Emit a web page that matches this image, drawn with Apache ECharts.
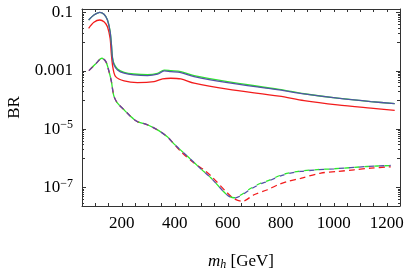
<!DOCTYPE html>
<html><head><meta charset="utf-8">
<script src="https://cdn.jsdelivr.net/npm/echarts@6/dist/echarts.min.js"></script>
<style>html,body{margin:0;padding:0;background:#fff}#c{width:407px;height:270px}</style>
</head><body><div id="c"></div>
<script>
// Solid curves (upper)
var mBlueSolid = [75, 95, 117, 133, 146, 156, 161, 165, 171, 184, 209, 246, 297, 335, 360, 385, 423, 473, 599, 794, 888, 1014, 1140, 1230];
var brBlueSolid = [0.0562, 0.0834, 0.1033, 0.0881, 0.0562, 0.02234, 0.00783, 0.00274, 0.00162, 0.00109, 0.000841, 0.000735, 0.000695, 0.000776, 0.001007, 0.000955, 0.000881, 0.000643, 0.000401, 0.000225, 0.000164, 0.000117, 8.95e-5, 7.59e-5];
var brGreenSolid = [0.0562, 0.0834, 0.1033, 0.0881, 0.0575, 0.0235, 0.0085, 0.0030, 0.00176, 0.00118, 0.000905, 0.00079, 0.000745, 0.000835, 0.00108, 0.00103, 0.00095, 0.00069, 0.00043, 0.000235, 0.000166, 0.000117, 8.95e-5, 7.59e-5];
var mRedSolid = [75, 95, 117, 133, 146, 156, 161, 167, 177, 209, 259, 322, 354, 385, 423, 473, 599, 794, 888, 1014, 1140, 1230];
var brRedSolid = [0.02924, 0.0469, 0.0562, 0.0492, 0.0332, 0.01327, 0.003556, 0.001247, 0.000643, 0.000458, 0.000401, 0.000434, 0.000536, 0.000566, 0.000536, 0.000382, 0.000238, 0.000138, 9.68e-5, 6.90e-5, 5.32e-5, 4.47e-5];
// Dashed curves (lower)
var mBlueDashed = [76, 102, 125, 140, 152, 161, 165, 171, 184, 209, 234, 259, 297, 335, 372, 397, 448, 498, 536, 586, 605, 623, 649, 687, 724, 750, 812, 875, 938, 1001, 1127, 1215];
var brBlueDashed = [1.03e-3, 1.77e-3, 2.74e-3, 2.10e-3, 9.53e-4, 4.34e-4, 2.5e-4, 1.33e-4, 7.89e-5, 4.66e-5, 2.74e-5, 1.85e-5, 1.43e-5, 9.6e-6, 5.53e-6, 3.18e-6, 1.19e-6, 4.44e-7, 2.18e-7, 7.08e-8, 5.01e-8, 4.37e-8, 5.25e-8, 8.91e-8, 1.35e-7, 1.63e-7, 2.77e-7, 3.59e-7, 4.10e-7, 4.44e-7, 5.32e-7, 5.75e-7];
var brGreenDashed = [1.03e-3, 1.77e-3, 2.74e-3, 2.10e-3, 9.53e-4, 4.34e-4, 2.5e-4, 1.33e-4, 7.89e-5, 4.66e-5, 2.74e-5, 1.85e-5, 1.43e-5, 9.6e-6, 5.53e-6, 3.18e-6, 1.19e-6, 4.44e-7, 2.18e-7, 7.08e-8, 5.01e-8, 4.5e-8, 5.6e-8, 9.5e-8, 1.42e-7, 1.72e-7, 2.9e-7, 3.7e-7, 4.15e-7, 4.44e-7, 5.32e-7, 5.75e-7];
var mRedDashed = [76, 102, 125, 140, 152, 161, 165, 171, 184, 209, 234, 259, 297, 335, 372, 423, 473, 510, 536, 599, 624, 655, 699, 750, 794, 825, 875, 951, 1014, 1077, 1140, 1215];
var brRedDashed = [1.03e-3, 1.77e-3, 2.74e-3, 2.10e-3, 9.53e-4, 4.34e-4, 2.5e-4, 1.33e-4, 7.89e-5, 4.66e-5, 2.74e-5, 1.85e-5, 1.43e-5, 9.6e-6, 5.53e-6, 1.74e-6, 6.97e-7, 4.10e-7, 2.57e-7, 6.53e-8, 4.17e-8, 3.39e-8, 5.71e-8, 8.47e-8, 1.31e-7, 1.63e-7, 2.09e-7, 3.16e-7, 3.59e-7, 4.10e-7, 4.69e-7, 5.20e-7];
// Axis settings
var xMin = 50, xMax = 1250, xStep = 50;
var xLabels = [200, 400, 600, 800, 1000, 1200];
var yMin = 2.35e-8, yMax = 0.134;
var yLabelExps = [-1, -3, -5, -7];
var yMajorTicks = [1e-1, 1e-3, 1e-5, 1e-7];
var yMidTicks = [1e-2, 1e-4, 1e-6];
var yMinorMultipliers = [2, 3, 4, 5, 6, 7, 8, 9];

function pairs(xs, ys) { return xs.map(function (x, i) { return [x, ys[i]]; }); }
var yMinorTicks = [];
yMajorTicks.forEach(function (t) {
  yMinorMultipliers.forEach(function (k) { yMinorTicks.push(t / 10 * k); });
});

var FONT = 'Liberation Serif';
var BLUE = '#5252a6', RED = '#f21c1c', GREEN = '#2ee62e';
var AX = '#333';
var frame = { show: true, lineStyle: { color: AX, width: 1 } };

function yFmt(v) {
  var e = Math.round(Math.log10(v));
  if (Math.abs(Math.log10(v) - e) > 1e-6) return '';
  if (yLabelExps.indexOf(e) < 0) return '';
  if (e === -1) return '0.1';
  if (e === -3) return '0.001';
  return '10{s|\u2212' + (-e) + '}';
}

function tickAxis(pos, values, len, showLine) {
  return {
    type: 'log', logBase: 10, min: yMin, max: yMax, position: pos,
    axisLine: showLine ? frame : { show: false }, splitLine: { show: false }, axisLabel: { show: false },
    axisTick: { show: true, inside: true, length: len, customValues: values, lineStyle: { color: AX } }
  };
}

var chart = echarts.init(document.getElementById('c'), null, { renderer: 'canvas' });
function line(xs, ys, color, dash, z, offset) {
  return {
    type: 'line', data: pairs(xs, ys), showSymbol: false, smooth: 0.3, z: z,
    lineStyle: { color: color, width: 1.3, type: dash || 'solid', dashOffset: offset || 0 },
    silent: true
  };
}
var yMain = {
  type: 'log', logBase: 10, min: yMin, max: yMax,
  axisLine: frame, splitLine: { show: false },
  axisTick: { inside: true, length: 4, customValues: yMajorTicks, lineStyle: { color: AX } },
  axisLabel: {
    fontFamily: FONT, fontSize: 17, color: '#000', margin: 9,
    showMinLabel: false, showMaxLabel: false,
    formatter: yFmt,
    rich: { s: { fontFamily: FONT, fontSize: 12, color: '#000', verticalAlign: 'top', padding: [0, 0, 8, 0] } }
  },
  name: 'BR', nameLocation: 'middle', nameGap: 59, nameRotate: 90,
  nameTextStyle: { fontFamily: FONT, fontSize: 17, color: '#000' }
};
chart.setOption({
  animation: false,
  grid: { left: 82, right: 7, top: 9, bottom: 64, outerBoundsMode: 'none' },
  xAxis: [{
    type: 'value', min: xMin, max: xMax, interval: xStep,
    axisLine: frame, splitLine: { show: false },
    axisTick: { inside: true, length: 3, lineStyle: { color: AX } },
    axisLabel: {
      fontFamily: FONT, fontSize: 17, color: '#000', margin: 9,
      formatter: function (v) { return xLabels.indexOf(v) >= 0 ? String(v) : ''; }
    },
    name: '{i|m}{sub|h} [GeV]', nameLocation: 'middle', nameGap: 47,
    nameTextStyle: {
      fontFamily: FONT, fontSize: 17, color: '#000',
      rich: { i: { fontFamily: FONT, fontSize: 17, fontStyle: 'italic', color: '#000' },
              sub: { fontFamily: FONT, fontSize: 12, fontStyle: 'italic', color: '#000', verticalAlign: 'bottom', padding: [6, 0, 0, 0] } }
    }
  }, {
    type: 'value', position: 'top', min: xMin, max: xMax, interval: xStep,
    axisLine: frame, splitLine: { show: false }, axisLabel: { show: false },
    axisTick: { inside: true, length: 3, lineStyle: { color: AX } }
  }],
  yAxis: [
    yMain,
    tickAxis('right', yMajorTicks, 4, true),
    tickAxis('left', yMidTicks, 3, false),
    tickAxis('right', yMidTicks, 3, false),
    tickAxis('left', yMinorTicks, 2, false),
    tickAxis('right', yMinorTicks, 2, false)
  ],
  series: [
    line(mRedSolid, brRedSolid, RED, 'solid', 2),
    line(mBlueSolid, brGreenSolid, GREEN, 'solid', 3),
    line(mBlueSolid, brBlueSolid, BLUE, 'solid', 4),
    line(mRedDashed, brRedDashed, RED, [6, 4], 2),
    line(mBlueDashed, brGreenDashed, GREEN, [5, 5], 3, 5),
    line(mBlueDashed, brBlueDashed, BLUE, [5, 5], 4, 0)
  ]
});
</script></body></html>
